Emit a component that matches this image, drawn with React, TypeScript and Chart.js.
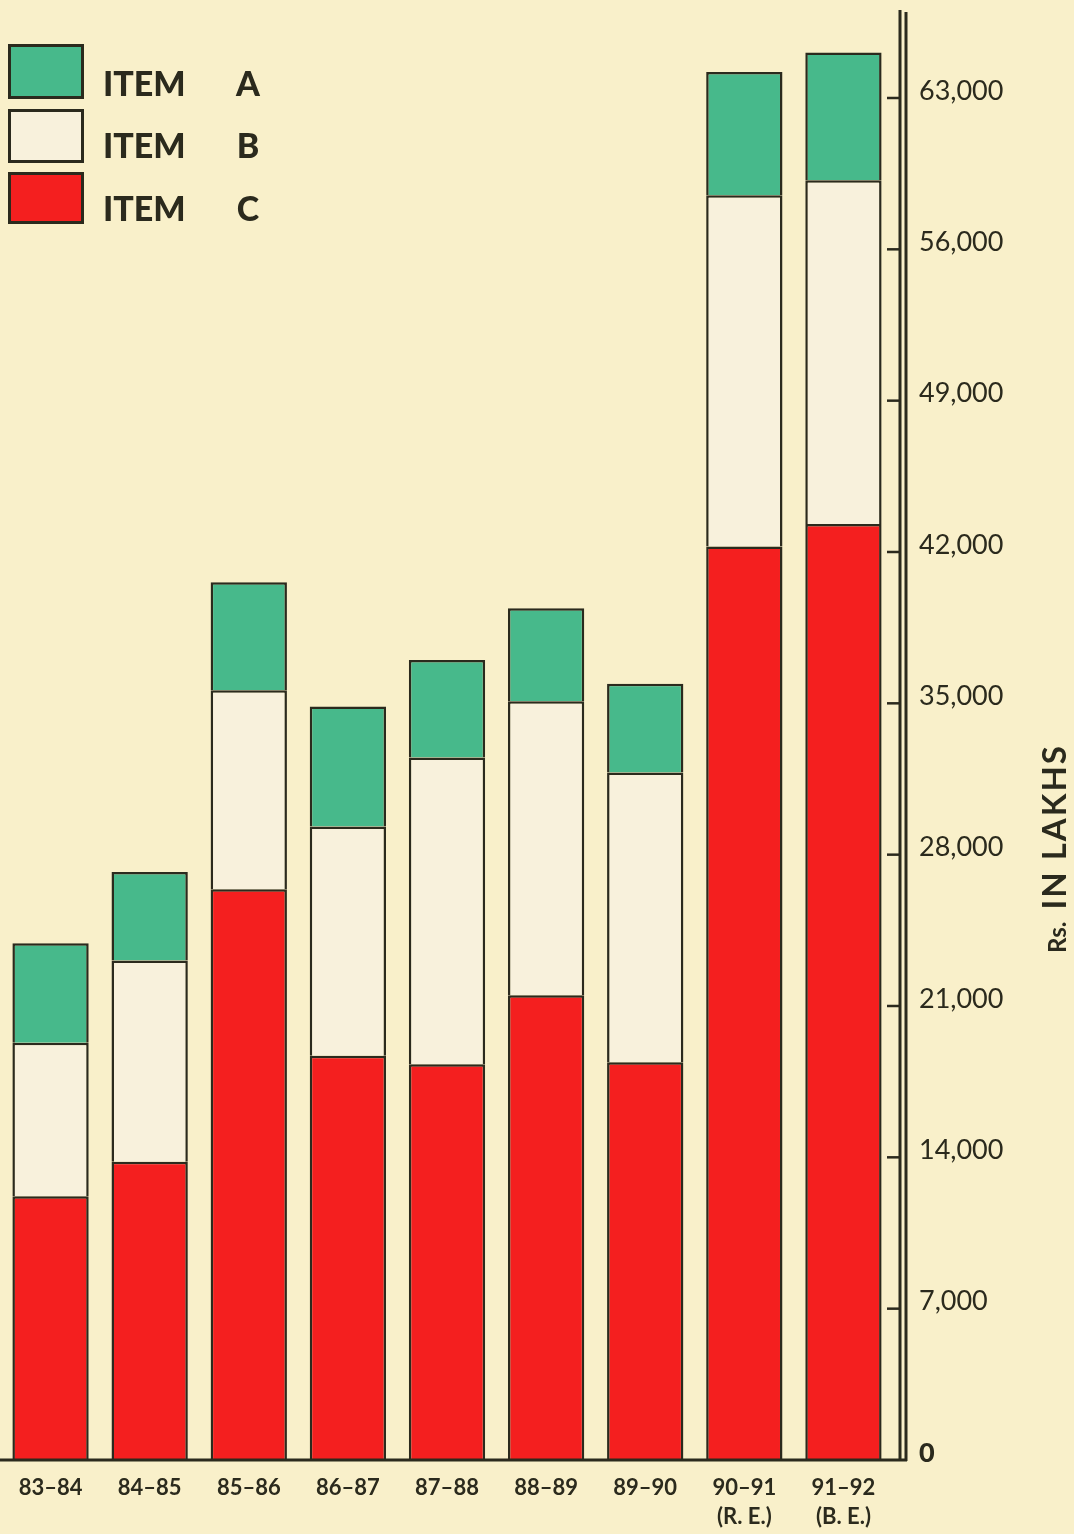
import React, { useEffect, useRef } from "react";
import { Chart, registerables } from "chart.js";

Chart.register(...registerables);

const categories: string[][] = [
  ["83–84"],
  ["84–85"],
  ["85–86"],
  ["86–87"],
  ["87–88"],
  ["88–89"],
  ["89–90"],
  ["90–91", "(R. E.)"],
  ["91–92", "(B. E.)"],
];
const itemC = [12200, 13800, 26400, 18700, 18300, 21500, 18400, 42250, 43300];
const itemB = [7100, 9300, 9200, 10600, 14200, 13600, 13400, 16250, 15900];
const itemA = [4600, 4100, 5000, 5550, 4500, 4300, 4100, 5700, 5900];
const yTicks = [0, 7000, 14000, 21000, 28000, 35000, 42000, 49000, 56000, 63000];
const legendNames = ["ITEM", "ITEM", "ITEM"];
const legendLetters = ["A", "B", "C"];
const axisTitleSmall = "Rs.";
const axisTitleBig = "IN LAKHS";

const BG = "#f9f0ca";
const INK = "#2b2a1d";
const GREEN = "#47b98b";
const WHITE = "#f8f1dc";
const RED = "#f41f1f";
const legendColors = [GREEN, WHITE, RED];

const decorPlugin = {
  id: "decor",
  beforeDraw(chart: any) {
    const ctx = chart.ctx;
    ctx.save();
    ctx.fillStyle = BG;
    ctx.fillRect(0, 0, chart.width, chart.height);
    ctx.restore();
  },
  afterDraw(chart: any) {
    const ctx = chart.ctx;
    const y = chart.scales.y;
    const area = chart.chartArea;
    const zero = y.getPixelForValue(0);
    ctx.save();
    ctx.strokeStyle = INK;
    // double axis line
    ctx.lineWidth = 3;
    ctx.beginPath();
    ctx.moveTo(900, area.top);
    ctx.lineTo(900, zero + 1);
    ctx.moveTo(906, area.top + 2);
    ctx.lineTo(906, zero + 1);
    ctx.stroke();
    // baseline
    ctx.lineWidth = 3;
    ctx.beginPath();
    ctx.moveTo(0, zero);
    ctx.lineTo(907, zero);
    ctx.stroke();
    // tick dashes
    ctx.lineWidth = 2.5;
    yTicks.forEach((v) => {
      if (v === 0) return;
      const py = y.getPixelForValue(v);
      ctx.beginPath();
      ctx.moveTo(887, py);
      ctx.lineTo(899, py);
      ctx.stroke();
    });
    // legend
    const boxTops = [45, 110, 173];
    const boxHeights = [53, 52, 50];
    const baselines = [96, 158, 221];
    for (let i = 0; i < 3; i++) {
      ctx.fillStyle = legendColors[i];
      ctx.fillRect(9, boxTops[i], 74, boxHeights[i]);
      ctx.lineWidth = 3;
      ctx.strokeStyle = INK;
      ctx.strokeRect(9.5, boxTops[i] + 0.5, 73, boxHeights[i] - 1);
      ctx.fillStyle = INK;
      ctx.font = "900 34px Lato";
      ctx.textAlign = "left";
      ctx.textBaseline = "alphabetic";
      ctx.fillText(legendNames[i], 103, baselines[i]);
      ctx.textAlign = "center";
      ctx.fillText(legendLetters[i], 248, baselines[i]);
    }
    // axis title (rotated, reading bottom to top)
    ctx.translate(1066, 953);
    ctx.rotate(-Math.PI / 2);
    ctx.fillStyle = INK;
    ctx.textAlign = "left";
    ctx.textBaseline = "alphabetic";
    ctx.font = "bold 24px Lato";
    ctx.fillText(axisTitleSmall, 0, 0);
    const w = ctx.measureText(axisTitleSmall).width;
    ctx.font = "bold 33px Lato";
    (ctx as any).letterSpacing = "2px";
    ctx.fillText(axisTitleBig, w + 12, 0);
    ctx.restore();
  },
};

export default function App() {
  const ref = useRef<HTMLCanvasElement | null>(null);
  useEffect(() => {
    if (!ref.current) return;
    const chart = new Chart(ref.current, {
      type: "bar",
      data: {
        labels: categories,
        datasets: [
          { label: "ITEM C", data: itemC, backgroundColor: RED },
          { label: "ITEM B", data: itemB, backgroundColor: WHITE },
          { label: "ITEM A", data: itemA, backgroundColor: GREEN },
        ].map((d) => ({
          ...d,
          borderColor: INK,
          borderWidth: 2.5,
          categoryPercentage: 1,
          barPercentage: 0.77,
        })),
      },
      options: {
        animation: false,
        responsive: false,
        maintainAspectRatio: false,
        layout: { padding: { top: 10, left: 1, right: 0, bottom: 0 } },
        plugins: { legend: { display: false }, tooltip: { enabled: false } },
        scales: {
          x: {
            stacked: true,
            grid: { display: false, drawTicks: false },
            border: { display: false },
            ticks: {
              color: INK,
              padding: 14,
              font: { family: "Lato", weight: "bold", size: 22, lineHeight: 1.3 },
              maxRotation: 0,
              autoSkip: false,
            },
            afterFit: (s: any) => {
              s.height = 74;
              s.paddingLeft = 0;
              s.paddingRight = 0;
            },
          },
          y: {
            position: "right",
            stacked: true,
            min: 0,
            max: 67070,
            grid: { display: false, drawTicks: false },
            border: { display: false },
            afterBuildTicks: (s: any) => {
              s.ticks = yTicks.map((v) => ({ value: v }));
            },
            ticks: {
              color: INK,
              padding: 26,
              labelOffset: -7,
              font: (c: any) =>
                c.tick && c.tick.value === 0
                  ? { family: "Lato", size: 27, weight: "900" }
                  : { family: "Lato", size: 27 },
              callback: (v: any) => (v === 0 ? "0" : Number(v).toLocaleString("en-US")),
            },
            afterFit: (s: any) => {
              s.width = 181;
              s.paddingTop = 0;
              s.paddingBottom = 0;
            },
          },
        },
      },
      plugins: [decorPlugin],
    });
    return () => chart.destroy();
  }, []);
  return (
    <div style={{ position: "absolute", left: 0, top: 0, width: 1074, height: 1534, background: BG }}>
      <canvas ref={ref} width={1074} height={1534} style={{ display: "block" }} />
    </div>
  );
}
